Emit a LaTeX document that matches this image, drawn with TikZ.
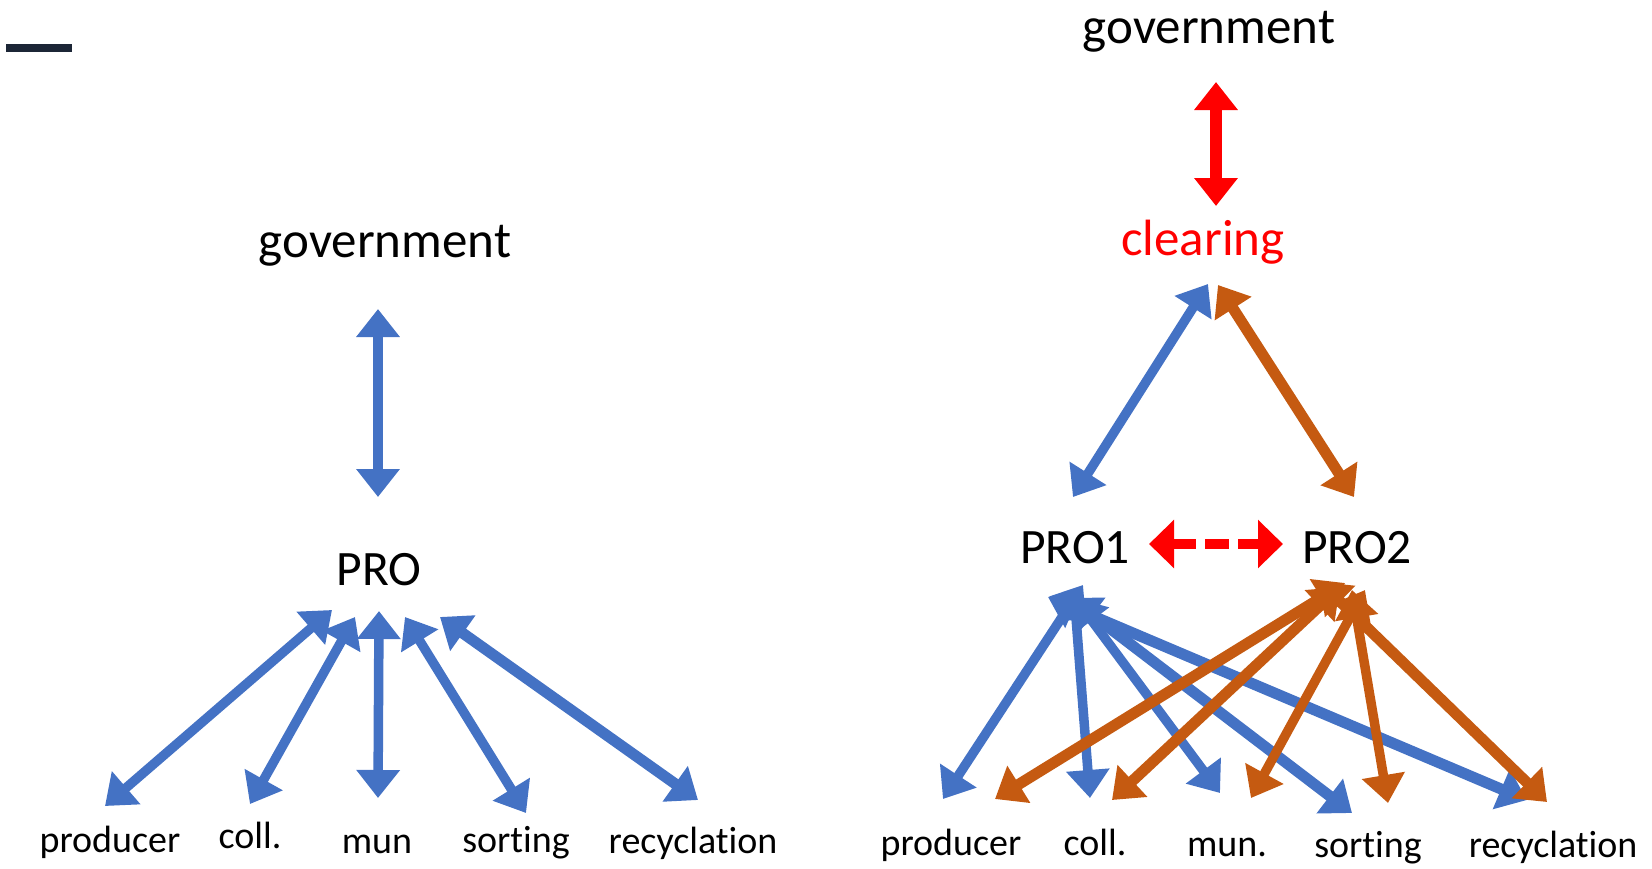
\documentclass[tikz,border=0pt]{standalone}
\usepackage{fontspec}
\setmainfont{Carlito}[Ligatures=NoCommon]
\usetikzlibrary{arrows.meta}
\definecolor{oblue}{HTML}{4472C4}
\definecolor{oorange}{HTML}{C55A11}
\definecolor{ored}{HTML}{FF0000}
\definecolor{darkbar}{HTML}{1C2636}
\begin{document}
\begin{tikzpicture}[x=1pt,y=-1pt,
  lbl/.style={inner sep=0pt, anchor=base, font=\fontsize{38}{40}\selectfont},
  big/.style={inner sep=0pt, anchor=base, font=\fontsize{51}{55}\selectfont},
  pro/.style={inner sep=0pt, anchor=base, font=\fontsize{49.5}{52}\selectfont},
  biarrow/.style={line width=9.5pt, {Triangle[length=28pt,width=42pt]}-{Triangle[length=28pt,width=42pt]}},
  thick arrow/.style={biarrow, line width=11pt},
]
\useasboundingbox (0,0) rectangle (1652,868);
\fill[darkbar] (6,44) rectangle (72,52);

% ---------- left diagram ----------
\node[big] (govL) at (385,257) {government};
\node[pro] (pro) at (379,585) {PRO};
\node[lbl] (prodL) at (110,852) {producer};
\node[lbl] (collL) at (250,848) {coll.};
\node[lbl] (munL) at (377,853) {mun};
\node[lbl] (sortL) at (516,852) {sorting};
\node[lbl] (recL) at (693,853) {recyclation};

\coordinate (gLa) at (378,309);
\coordinate (gLb) at (378,497);
\draw[biarrow, oblue] (gLa) -- (gLb);

\coordinate (pL1) at (332,610); \coordinate (eL1) at (105,806);
\coordinate (pL2) at (355,617); \coordinate (eL2) at (250,804);
\coordinate (pL3) at (379,611); \coordinate (eL3) at (378,798);
\coordinate (pL4) at (405,617); \coordinate (eL4) at (526,813);
\coordinate (pL5) at (440,617); \coordinate (eL5) at (698,800);
\draw[biarrow, oblue] (pL1) -- (eL1);
\draw[biarrow, oblue] (pL2) -- (eL2);
\draw[biarrow, oblue] (pL3) -- (eL3);
\draw[biarrow, oblue] (pL4) -- (eL4);
\draw[thick arrow, oblue] (pL5) -- (eL5);

% ---------- right diagram ----------
\node[big] (govR) at (1209,43) {government};
\node[big, text=ored] (clr) at (1203,255) {clearing};
\node[pro] (pro1) at (1075,563) {PRO1};
\node[pro] (pro2) at (1357,563) {PRO2};
\node[lbl] (prodR) at (951,855) {producer};
\node[lbl] (collR) at (1095,855) {coll.};
\node[lbl] (munR) at (1227,856) {mun.};
\node[lbl] (sortR) at (1368,857) {sorting};
\node[lbl] (recR) at (1553,857) {recyclation};

\coordinate (gRa) at (1216,82);
\coordinate (gRb) at (1216,206);
\draw[biarrow, ored, line width=12pt] (gRa) -- (gRb);

\coordinate (cB) at (1208,284); \coordinate (p1t) at (1073,497);
\coordinate (cO) at (1218,285); \coordinate (p2t) at (1354,497);
\draw[biarrow, oblue] (cB) -- (p1t);
\draw[thick arrow, oorange] (cO) -- (p2t);

\coordinate (dA) at (1149,544); \coordinate (dB) at (1283,544);
\draw[ored, line width=10pt, dash pattern=on 24pt off 9pt,
  {Triangle[length=25pt,width=47pt]}-{Triangle[length=25pt,width=47pt]}] (dA) -- (dB);

% blue arrows from PRO1
\coordinate (b1) at (1083,585); \coordinate (bE1) at (943,799);
\coordinate (b2) at (1074,592); \coordinate (bE2) at (1090,798);
\coordinate (b3) at (1075,598); \coordinate (bE3) at (1220,793);
\coordinate (b4) at (1070,598); \coordinate (bE4) at (1352,813);
\coordinate (b5) at (1048,597); \coordinate (bE5) at (1527,800);
\draw[biarrow, oblue] (b1) -- (bE1);
\draw[biarrow, oblue] (b2) -- (bE2);
\draw[biarrow, oblue] (b3) -- (bE3);
\draw[thick arrow, oblue] (b4) -- (bE4);
\draw[thick arrow, oblue] (b5) -- (bE5);

% orange arrows from PRO2
\coordinate (o1) at (1345,583); \coordinate (oE1) at (995,799);
\coordinate (o2) at (1340,587); \coordinate (oE2) at (1112,800);
\coordinate (o3) at (1365,590); \coordinate (oE3) at (1251,798);
\coordinate (o4) at (1352,590); \coordinate (oE4) at (1388,803);
\coordinate (o5) at (1320,582); \coordinate (oE5) at (1547,802);
\draw[thick arrow, oorange] (o1) -- (oE1);
\draw[thick arrow, oorange] (o2) -- (oE2);
\draw[biarrow, oorange] (o3) -- (oE3);
\draw[biarrow, oorange] (o4) -- (oE4);
\draw[thick arrow, oorange] (o5) -- (oE5);
\end{tikzpicture}
\end{document}
